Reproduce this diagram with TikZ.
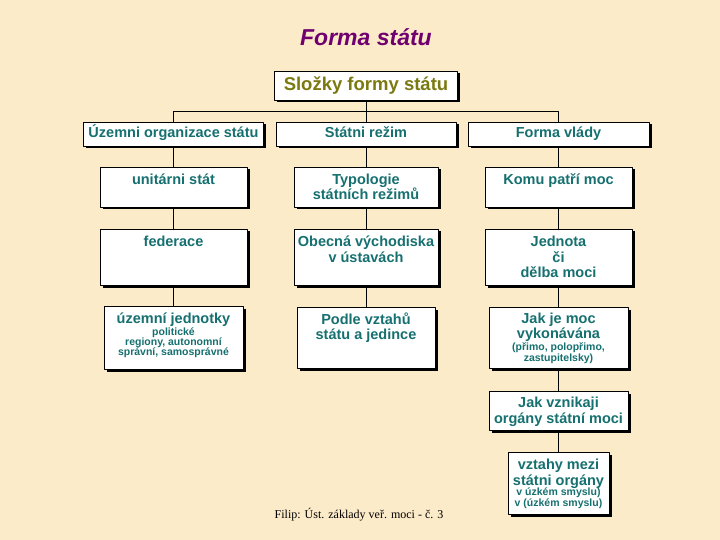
\documentclass[tikz,border=0pt]{standalone}
\usepackage{fontspec}
\setmainfont{Liberation Serif}
\setsansfont{Liberation Sans}
\usetikzlibrary{positioning,shadows}
\definecolor{cream}{RGB}{252,235,201}
\definecolor{tealtext}{RGB}{22,112,112}
\definecolor{olivetext}{RGB}{122,122,16}
\definecolor{titlepurple}{RGB}{112,0,112}
\newcommand{\smalltxt}{\fontsize{10.5}{11}\selectfont}
\tikzset{
    txt/.style={
        text=tealtext, align=center, inner sep=0pt,
        font=\sffamily\bfseries\fontsize{14.5}{15.5}\selectfont
    }
}

\begin{document}
\begin{tikzpicture}[x=1pt,y=-1pt, line cap=round, line join=round]

\tikzset{
  box/.style={draw=black, fill=white, line width=0.8pt, inner sep=0pt,
    drop shadow={shadow xshift=2.5pt, shadow yshift=-2.5pt, fill=black, opacity=1}},
  head/.style={box, txt, text height=10.5pt, text depth=3pt, minimum height=24pt},
  conn/.style={draw=black, line width=0.8pt},
  title/.style={text=titlepurple, inner sep=0pt, font=\sffamily\bfseries\itshape\fontsize{23}{27}\selectfont},
  foot/.style={inner sep=0pt, font=\rmfamily\fontsize{12}{14}\selectfont}
}

\fill[cream] (0,0) rectangle (720,540);
\useasboundingbox (0,0) rectangle (720,540);

\node[title] (title) at (366,37) {Forma státu};
\node[box, txt, text=olivetext, font=\sffamily\bfseries\fontsize{18.5}{20}\selectfont,
  minimum width=183pt, minimum height=29pt] (slozky) at (366,85.5) {Složky formy státu};

% first row
\node[head, minimum width=180pt] (uzorg) at (173.5,134) {Územni organizace státu};
\node[head, minimum width=180pt] (rezim) at (366,134) {Státni režim};
\node[head, minimum width=181pt] (vlada) at (558.5,134) {Forma vlády};

% left column
\node[box, minimum width=147pt, minimum height=40pt] (unitar) at (173.5,187) {};
\node[txt, below=7pt of unitar.north] (unitar-t) {unitárni stát};
\node[box, minimum width=147pt, minimum height=56pt] (feder) at (173.5,257) {};
\node[txt, below=7.5pt of feder.north] (feder-t) {federace};
\node[box, minimum width=139pt, minimum height=63pt] (uzjed) at (173.5,337.5) {};
\node[txt, below=7pt of uzjed.north] (uzjed-t) {územní jednotky\\[-3.5pt]
  {\smalltxt politické}\\[-5.5pt] {\smalltxt regiony, autonomní}\\[-5.5pt] {\smalltxt správní, samosprávné}};

% middle column
\node[box, minimum width=144pt, minimum height=40pt] (typol) at (366,187) {};
\node[txt, below=7pt of typol.north] (typol-t) {Typologie\\státních režimů};
\node[box, minimum width=144pt, minimum height=56pt] (obecna) at (366,257) {};
\node[txt, below=7.5pt of obecna.north] (obecna-t) {Obecná východiska\\v ústavách};
\node[box, minimum width=138pt, minimum height=61pt] (podle) at (366,337.5) {};
\node[txt, below=6pt of podle.north] (podle-t) {Podle vztahů\\státu a jedince};

% right column
\node[box, minimum width=147pt, minimum height=40pt] (komu) at (558.5,187) {};
\node[txt, below=7pt of komu.north] (komu-t) {Komu patří moc};
\node[box, minimum width=147pt, minimum height=56pt] (jednota) at (558.5,257) {};
\node[txt, below=7.5pt of jednota.north] (jednota-t) {Jednota\\či\\dělba moci};
\node[box, minimum width=139pt, minimum height=61pt] (jakje) at (558.5,337.5) {};
\node[txt, below=6pt of jakje.north] (jakje-t) {Jak je moc\\vykonávána\\[-3.5pt]
  {\smalltxt (přimo, polopřimo,}\\[-4.5pt] {\smalltxt zastupitelsky)}};
\node[box, minimum width=139pt, minimum height=39pt] (vznik) at (558.5,410.5) {};
\node[txt, below=6.5pt of vznik.north] (vznik-t) {Jak vznikaji\\orgány státní moci};
\node[box, minimum width=101pt, minimum height=62pt] (vztahy) at (558.5,483) {};
\node[txt, below=7.5pt of vztahy.north] (vztahy-t) {vztahy mezi\\státni orgány\\[-5.5pt]
  {\smalltxt v úzkém smyslu)}\\[-4.5pt] {\smalltxt v (úzkém smyslu)}};

% connectors
\coordinate (bus) at (366,111.5);
\draw[conn] (slozky) -- (rezim);
\draw[conn] (uzorg.north) |- (bus) -| (vlada.north);
\draw[conn] (uzorg) -- (unitar);
\draw[conn] (unitar) -- (feder);
\draw[conn] (feder) -- (uzjed);
\draw[conn] (rezim) -- (typol);
\draw[conn] (typol) -- (obecna);
\draw[conn] (obecna) -- (podle);
\draw[conn] (vlada) -- (komu);
\draw[conn] (komu) -- (jednota);
\draw[conn] (jednota) -- (jakje);
\draw[conn] (jakje) -- (vznik);
\draw[conn] (vznik) -- (vztahy);

\node[foot] (filip) at (359,515) {Filip: Úst. základy veř. moci - č. 3};

\end{tikzpicture}
\end{document}
